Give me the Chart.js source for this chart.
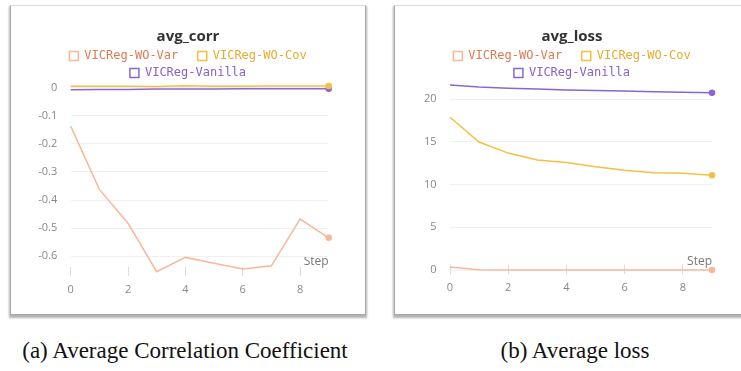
<!DOCTYPE html>
<html>
<head>
<meta charset="utf-8">
<script src="https://cdn.jsdelivr.net/npm/chart.js@4.4.0/dist/chart.umd.min.js"></script>
<style>
  html, body { margin: 0; padding: 0; background: #fff; width: 741px; height: 371px; overflow: hidden; }
  .panel {
    position: absolute; top: 5px; width: 354px; height: 308px; background: #fff;
    border: 1px solid #a8a8a8; border-top-color: #dedede;
    box-shadow: 0 2px 2px 1px rgba(0, 0, 0, 0.3);
  }
  #pa { left: 10px; }
  #pb { left: 394px; }
  .cap {
    position: absolute; top: 338px; width: 370px; text-align: center; white-space: nowrap;
    font: 23px "Liberation Serif", "Times New Roman", serif; color: #111;
  }
</style>
</head>
<body>
<div class="panel" id="pa"><canvas id="corr" width="354" height="308"></canvas></div>
<div class="panel" id="pb"><canvas id="loss" width="354" height="308"></canvas></div>
<div class="cap" style="left:0">(a) Average Correlation Coefficient</div>
<div class="cap" style="left:390px">(b) Average loss</div>
<script>
// data
const steps = [0, 1, 2, 3, 4, 5, 6, 7, 8, 9];
const stepTicks = [0, 2, 4, 6, 8];
const seriesNames = ['VICReg-WO-Var', 'VICReg-WO-Cov', 'VICReg-Vanilla'];

const corrWoVar = [-0.136, -0.362, -0.483, -0.656, -0.605, -0.626, -0.646, -0.635, -0.468, -0.535];
const corrWoCov = [0.006, 0.006, 0.006, 0.005, 0.008, 0.006, 0.006, 0.007, 0.007, 0.007];
const corrVanilla = [-0.006, -0.005, -0.005, -0.004, -0.004, -0.004, -0.003, -0.003, -0.003, -0.003];
const corrTicks = [0, -0.1, -0.2, -0.3, -0.4, -0.5, -0.6];

const lossWoVar = [0.35, 0.02, 0.01, 0.01, 0.005, 0.005, 0.004, 0.003, 0.003, 0.003];
const lossWoCov = [17.9, 15.0, 13.7, 12.9, 12.6, 12.1, 11.7, 11.4, 11.35, 11.1];
const lossVanilla = [21.68, 21.45, 21.3, 21.2, 21.1, 21.03, 20.97, 20.9, 20.84, 20.78];
const lossTicks = [0, 5, 10, 15, 20];

const lineColors = ['#f7b89a', '#f3bf45', '#8a66d4'];
const textColors = ['#dc7a52', '#e9a92c', '#8560cf'];

Chart.defaults.font.family = '"Open Sans", sans-serif';

function makeChart(id, cfg) {
  const last = steps.length - 1;
  return new Chart(document.getElementById(id), {
    type: 'line',
    data: {
      datasets: cfg.values.map((vals, i) => ({
        label: seriesNames[i],
        data: steps.map((s, j) => ({ x: s, y: vals[j] })),
        borderColor: lineColors[i],
        backgroundColor: lineColors[i],
        borderWidth: 1.5,
        pointRadius: ctx => (ctx.dataIndex === last ? 2.5 : 0),
        pointHoverRadius: 0,
        tension: 0,
        clip: false
      }))
    },
    options: {
      responsive: false,
      animation: false,
      layout: { padding: 0 },
      plugins: {
        tooltip: { enabled: false },
        title: {
          display: true, text: cfg.title, color: '#333',
          font: { size: 15, weight: 'bold' },
          padding: { top: 22, bottom: -1 }
        },
        legend: {
          maxHeight: 37,
          labels: {
            font: { family: '"DejaVu Sans Mono", monospace', size: 12 },
            boxWidth: 9, boxHeight: 9, padding: 5,
            // first item gets extra room so the row gap matches
            generateLabels: chart => chart.data.datasets.map((ds, i) => ({
              text: i === 0 ? ds.label + '\u00a0\u00a0' : ds.label,
              fillStyle: 'rgba(255,255,255,0)',
              strokeStyle: lineColors[i],
              lineWidth: 1.5,
              fontColor: textColors[i],
              hidden: false,
              datasetIndex: i
            }))
          }
        }
      },
      scales: {
        x: {
          type: 'linear', min: 0, max: 9,
          afterBuildTicks: ax => { ax.ticks = stepTicks.map(v => ({ value: v })); },
          afterFit: ax => { ax.height = cfg.xHeight; },
          grid: { drawOnChartArea: false, tickLength: -9, color: '#dcdcdc' },
          border: { display: false },
          ticks: { color: '#888', font: { size: 11 }, padding: cfg.xPad },
          title: {
            display: true, text: 'Step', align: 'end', color: '#777',
            font: { size: 12 }, padding: { top: -45, bottom: 45 }
          }
        },
        y: {
          min: cfg.yMin, max: cfg.yMax,
          afterBuildTicks: ax => { ax.ticks = cfg.yTicks.map(v => ({ value: v })); },
          afterFit: ax => { ax.width = cfg.yWidth; },
          grid: { color: '#f0f0f0', drawTicks: false },
          border: { display: false },
          ticks: { color: '#888', font: { size: 11 }, padding: 13.5 }
        },
        // empty right-hand margin so the plot ends where the reference does
        yr: {
          position: 'right',
          afterFit: ax => { ax.width = cfg.rightGap; },
          grid: { display: false },
          border: { display: false },
          ticks: { display: false }
        }
      }
    }
  });
}

makeChart('corr', {
  title: 'avg_corr',
  values: [corrWoVar, corrWoCov, corrVanilla],
  yTicks: corrTicks,
  yMin: -0.6714, yMax: 0.0214,
  yWidth: 59.7, rightGap: 36.3, xHeight: 38, xPad: 16.4
});

makeChart('loss', {
  title: 'avg_loss',
  values: [lossWoVar, lossWoCov, lossVanilla],
  yTicks: lossTicks,
  yMin: -0.41, yMax: 22.03,
  yWidth: 55, rightGap: 37, xHeight: 40.5, xPad: 17
});
</script>
</body>
</html>
